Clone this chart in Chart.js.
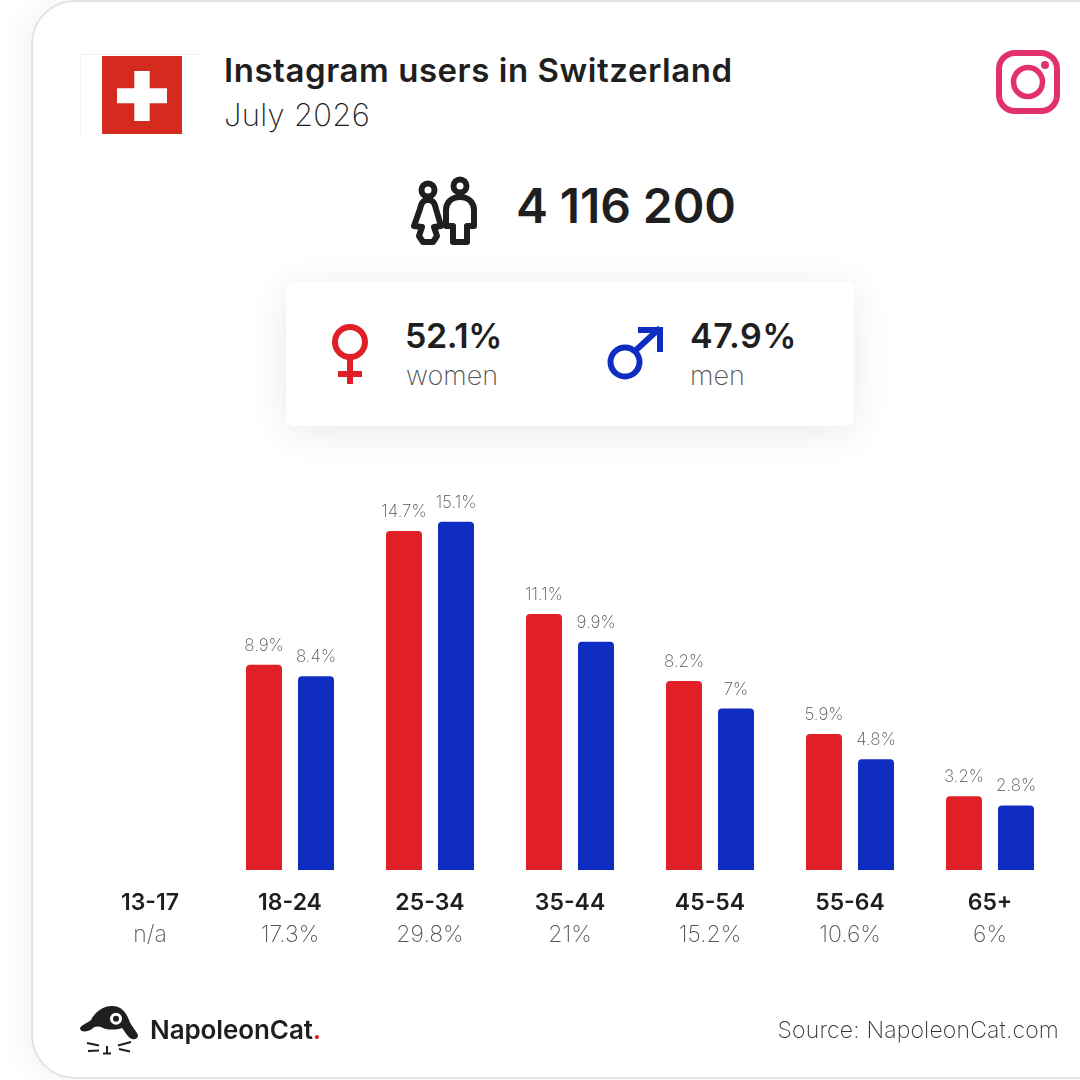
<!DOCTYPE html>
<html><head><meta charset="utf-8">
<script src="https://cdn.jsdelivr.net/npm/chart.js@4"></script>
<style>
html,body{margin:0;padding:0;background:#fff;width:1080px;height:1080px;overflow:hidden;font-family:Inter,sans-serif;color:#1f1f1f}
#page{position:relative;width:1080px;height:1080px;overflow:hidden}
#frame{position:absolute;left:31px;top:0;width:1100px;height:1075px;border:2px solid #e3e3e3;border-radius:44px;box-sizing:content-box;background:#fff;box-shadow:-8px 0 30px rgba(0,0,0,.05)}
.t{position:absolute;white-space:nowrap;line-height:1}
#card{position:absolute;left:286px;top:282px;width:568px;height:144px;background:#fff;border-radius:8px;box-shadow:0 6px 40px rgba(0,0,0,.09)}
svg{position:absolute}
canvas{position:absolute;left:0;top:0}
</style></head><body><div id="page">
<div id="frame"></div>
<svg style="left:80px;top:54px" width="122" height="82"><path d="M.5 80V.5H120" fill="none" stroke="#f1f1f1"/><rect x="22" y="2" width="80" height="78" fill="#d52b1e"/><path d="M37 34.3H54.3V17H69.7V34.3H87V49.3H69.7V67H54.3V49.3H37Z" fill="#fff"/></svg>
<div class="t" style="left:224px;top:54px;font-size:33px;font-weight:600;letter-spacing:.55px">Instagram users in Switzerland</div>
<div class="t" style="left:224px;top:99px;font-size:31px;font-weight:200;letter-spacing:.3px">July 2026</div>
<svg style="left:996px;top:50px" width="65" height="65" fill="none" stroke="#e1306c"><rect x="3" y="3" width="58" height="58" rx="16" stroke-width="6"/><circle cx="32" cy="32" r="14.5" stroke-width="5.5"/><circle cx="49" cy="15" r="4" fill="#e1306c" stroke="none"/></svg>
<svg style="left:410px;top:176px" width="70" height="70" fill="none" stroke="#1f1f1f" stroke-width="6" stroke-linejoin="round"><circle cx="18" cy="14" r="6.5"/><circle cx="50" cy="10" r="6.5"/><path d="M18 24C12 24 11 29 10 33L4 50 12 51 9 60 13 66H23L27 60 24 51 31 50 26 33C25 29 24 24 18 24Z"/><path d="M50 21C41 21 36 27 36 34V50H43V66H57V50H64V34C64 27 59 21 50 21Z"/></svg>
<div class="t" style="left:516px;top:182px;font-size:48px;font-weight:600;letter-spacing:-.1px">4 116 200</div>
<div id="card"></div>
<svg style="left:330px;top:322px" width="40" height="64" fill="none" stroke="#e01f26" stroke-width="6"><circle cx="20" cy="20" r="15"/><path d="M20 35V62M8 52H32"/></svg>
<div class="t" style="left:405px;top:319px;font-size:34px;font-weight:600;letter-spacing:-.4px">52.1%</div>
<div class="t" style="left:406px;top:362px;font-size:27px;font-weight:200;color:#555">women</div>
<svg style="left:604px;top:324px" width="62" height="60" fill="none" stroke="#0f2dc1" stroke-width="6"><circle cx="21" cy="38" r="14.5"/><path d="M31 27L56 4M34 6H56V28"/></svg>
<div class="t" style="left:690px;top:319px;font-size:34px;font-weight:600;letter-spacing:.5px">47.9%</div>
<div class="t" style="left:690px;top:362px;font-size:27px;font-weight:200;color:#555">men</div>
<canvas id="c" width="1080" height="1080" style="width:1080px;height:1080px"></canvas>
<svg style="left:78px;top:1004px" width="62" height="52" fill="#1f1f1f"><path d="M2 24C3 21 10 19 13 16 17 8 25 2 34 2 43 2 48 8 51 16 53 22 58 26 60 31 60 36 55 36 52 34 48 31 47 27 44 24 38 26 30 26 25 24 21 22 17 22 14 25 10 28 2 29 2 24Z"/><circle cx="38" cy="14.7" r="6" fill="#fff"/><circle cx="38" cy="14.7" r="3"/><path d="M9 39L21 41.5M10 47L21 46.5M40 41.5L53 38M41 45L52 47.5M29 42V49M25 49.5H33" stroke="#1f1f1f" stroke-width="2" fill="none"/></svg>
<div class="t" style="left:150px;top:1017px;font-size:26px;font-weight:600;letter-spacing:-.1px">NapoleonCat<span style="color:#e01f26">.</span></div>
<div class="t" style="right:21px;top:1019px;font-size:23px;font-weight:200;color:#333;letter-spacing:.17px">Source: NapoleonCat.com</div>
</div>
<script>
const categories = ["13-17","18-24","25-34","35-44","45-54","55-64","65+"];
const totals = ["n/a","17.3%","29.8%","21%","15.2%","10.6%","6%"];
const women = [null,8.9,14.7,11.1,8.2,5.9,3.2];
const men = [null,8.4,15.1,9.9,7,4.8,2.8];
const womenColor = "#e01f26", menColor = "#0f2dc1";

const valueLabels = {
  id:"valueLabels",
  afterDatasetsDraw(chart){
    const ctx = chart.ctx;
    ctx.save();
    ctx.font = "200 17px Inter, sans-serif";
    ctx.fillStyle = "#555";
    ctx.textAlign = "center";
    ctx.textBaseline = "alphabetic";
    chart.data.datasets.forEach((ds,i)=>{
      chart.getDatasetMeta(i).data.forEach((bar,j)=>{
        if(ds.data[j]==null) return;
        ctx.fillText(ds.data[j]+"%", bar.x, bar.y-14);
      });
    });
    ctx.restore();
  }
};

new Chart(document.getElementById("c"),{
  type:"bar",
  data:{labels:categories,datasets:[
    {label:"women",data:women,backgroundColor:womenColor,borderRadius:{topLeft:4,topRight:4},borderSkipped:"bottom"},
    {label:"men",data:men,backgroundColor:menColor,borderRadius:{topLeft:4,topRight:4},borderSkipped:"bottom"}
  ]},
  plugins:[valueLabels],
  options:{
    responsive:false,animation:false,devicePixelRatio:1,
    layout:{padding:{left:80,right:20,top:455,bottom:120}},
    datasets:{bar:{categoryPercentage:52*2/140,barPercentage:36/52}},
    plugins:{legend:{display:false},tooltip:{enabled:false}},
    scales:{
      y:{display:false,min:0,max:18},
      x:{position:"bottom",grid:{display:false},border:{display:false},afterFit(s){s.height=40;},
         ticks:{color:"#1f1f1f",font:{family:"Inter",size:23,weight:"600"},padding:11,maxRotation:0,autoSkip:false}},
      x2:{type:"category",labels:totals,position:"bottom",offset:true,grid:{display:false},border:{display:false},afterFit(s){s.height=50;},
         ticks:{color:"#555",font:{family:"Inter",size:23,weight:"200"},padding:3,maxRotation:0,autoSkip:false}}
    }
  }
});
</script></body></html>
